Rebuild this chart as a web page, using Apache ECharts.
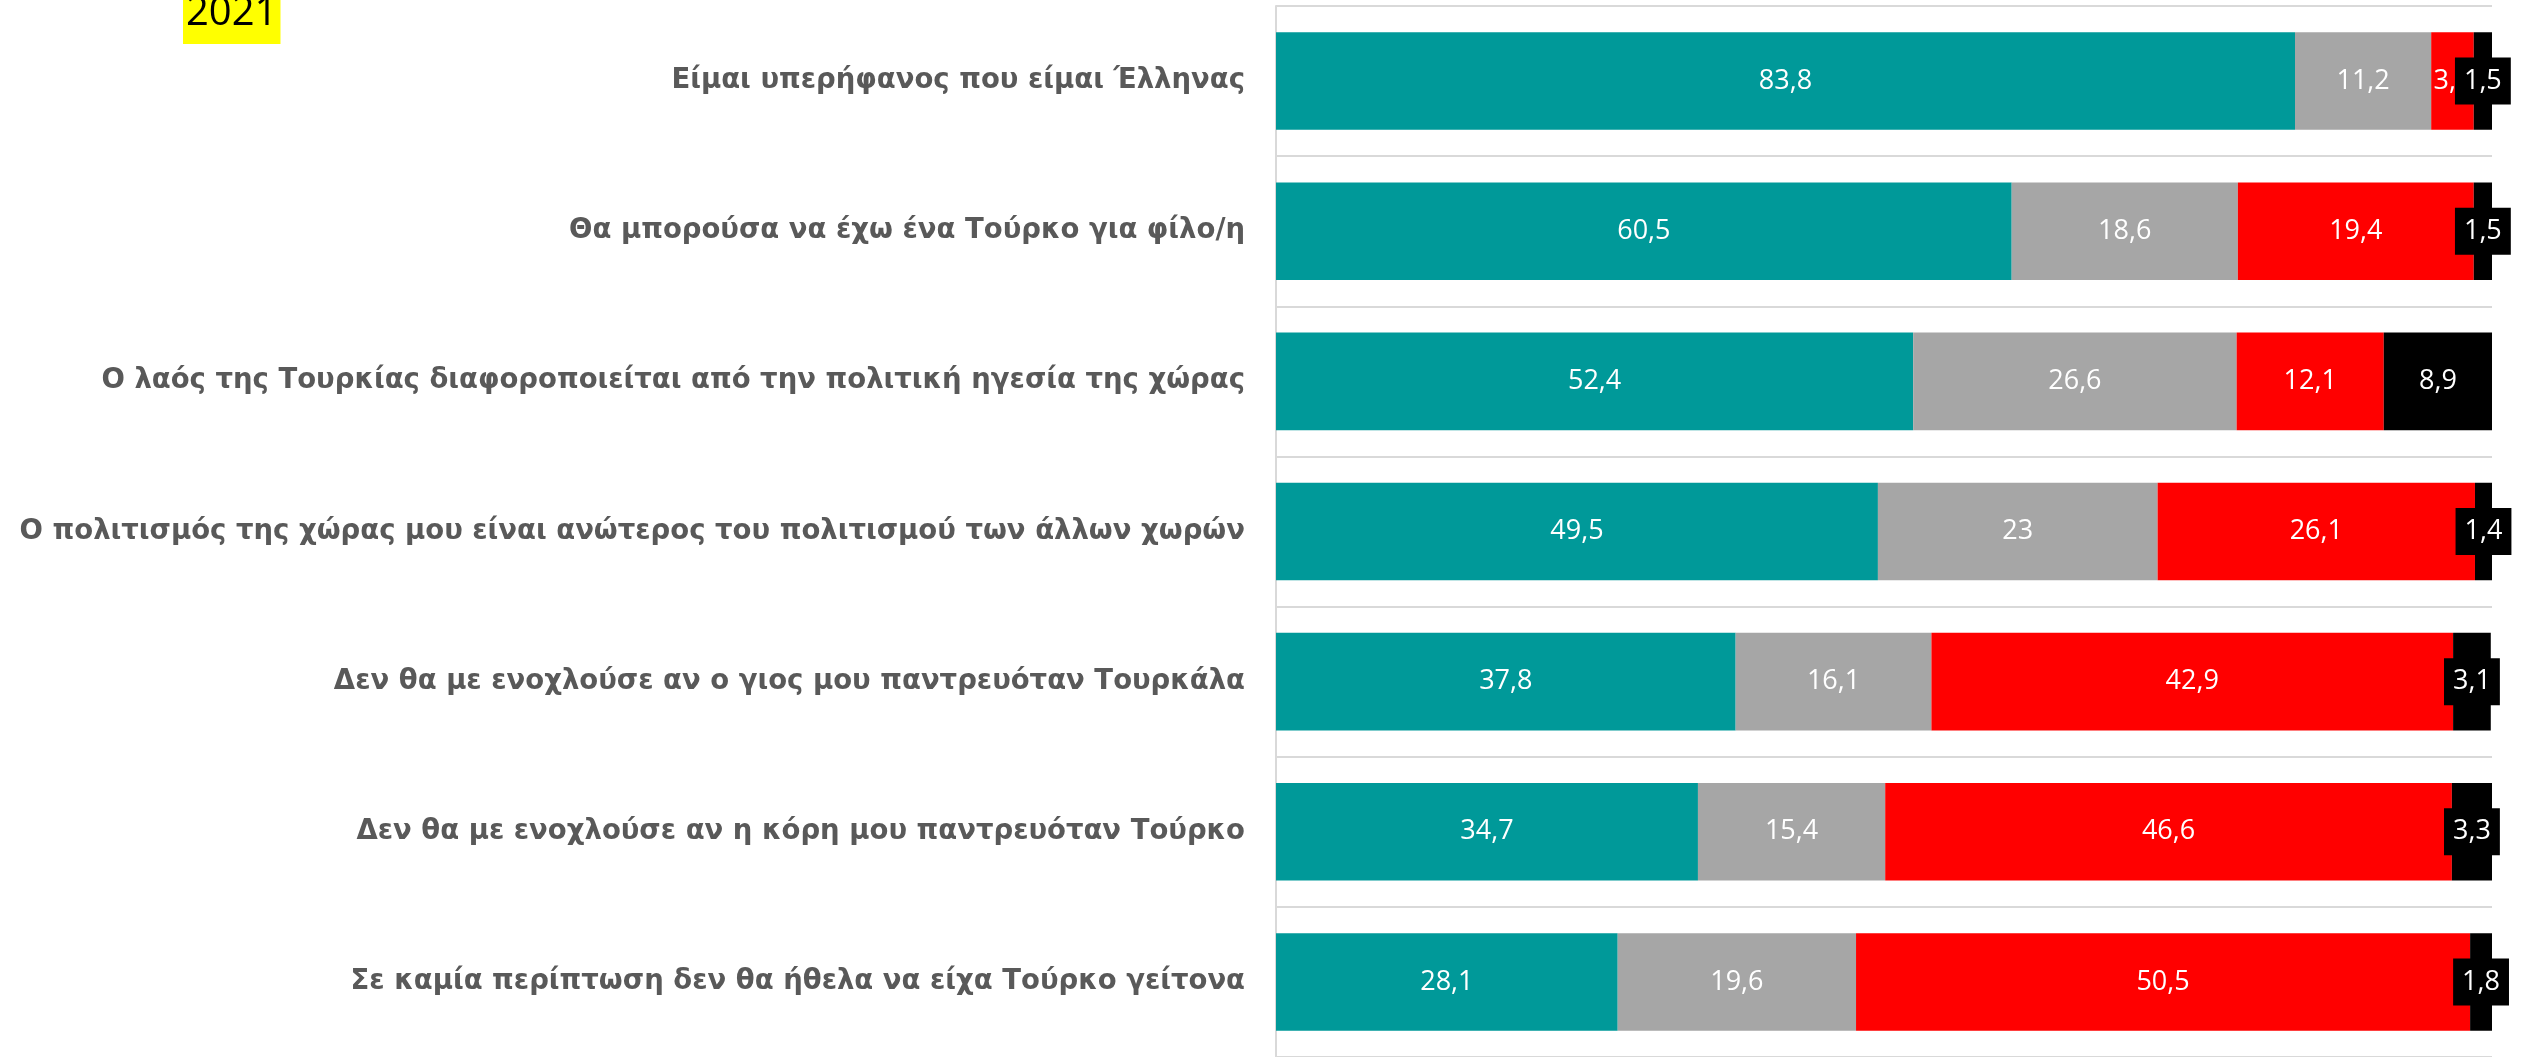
<!DOCTYPE html>
<html>
<head>
<meta charset="utf-8">
<script src="https://cdn.jsdelivr.net/npm/echarts@6/dist/echarts.min.js"></script>
<style>
  html, body { margin: 0; padding: 0; background: #fff; }
  #chart { width: 2526px; height: 1057px; }
</style>
</head>
<body>
<div id="chart"></div>
<script>
const categories = [
  'Είμαι υπερήφανος που είμαι Έλληνας',
  'Θα μπορούσα να έχω ένα Τούρκο για φίλο/η',
  'Ο λαός της Τουρκίας διαφοροποιείται από την πολιτική ηγεσία της χώρας',
  'Ο πολιτισμός της χώρας μου είναι ανώτερος του πολιτισμού των άλλων χωρών',
  'Δεν θα με ενοχλούσε αν ο γιος μου παντρευόταν Τουρκάλα',
  'Δεν θα με ενοχλούσε αν η κόρη μου παντρευόταν Τούρκο',
  'Σε καμία περίπτωση δεν θα ήθελα να είχα Τούρκο γείτονα'
];
const agree = [83.8, 60.5, 52.4, 49.5, 37.8, 34.7, 28.1];
const neutral = [11.2, 18.6, 26.6, 23, 16.1, 15.4, 19.6];
const disagree = [3.5, 19.4, 12.1, 26.1, 42.9, 46.6, 50.5];
const noAnswer = [1.5, 1.5, 8.9, 1.4, 3.1, 3.3, 1.8];

// decimal comma, as in the original
const fmt = p => String(p.value).replace('.', ',');

function seg(name, data, color, extraLabel) {
  return {
    name: name,
    type: 'bar',
    stack: 'total',
    data: data,
    barCategoryGap: '35%',
    itemStyle: { color: color },
    label: Object.assign({
      show: true,
      position: 'inside',
      color: '#fff',
      fontFamily: 'Open Sans',
      fontSize: 27,
      formatter: fmt
    }, extraLabel || {})
  };
}

let myChart = echarts.init(document.getElementById('chart'));
let option = {
  animation: false,
  title: {
    text: '2021',
    left: 183,
    top: -6,
    padding: [0, 3, 10, 3],
    backgroundColor: '#ffff00',
    textStyle: { fontFamily: 'Open Sans', fontSize: 40, fontWeight: 'normal', color: '#000' }
  },
  grid: { left: 1276, right: 34, top: 6, height: 1057 },
  xAxis: { type: 'value', min: 0, max: 100, show: false },
  yAxis: {
    type: 'category',
    inverse: true,
    data: categories,
    axisLine: { show: true, lineStyle: { color: '#d9d9d9', width: 2 } },
    axisTick: { show: false },
    splitLine: { show: true, interval: 0, lineStyle: { color: '#d9d9d9', width: 2 } },
    axisLabel: {
      margin: 31,
      color: '#595959',
      fontFamily: 'DejaVu Sans',
      fontWeight: 'bold',
      fontSize: 27.5
    }
  },
  series: [
    seg('agree', agree, '#009999'),
    seg('neutral', neutral, '#a6a6a6'),
    seg('disagree', disagree, '#ff0000'),
    seg('noAnswer', noAnswer, '#000000', { backgroundColor: '#000', padding: [10, 9] })
  ]
};
option && myChart.setOption(option);
</script>
</body>
</html>
